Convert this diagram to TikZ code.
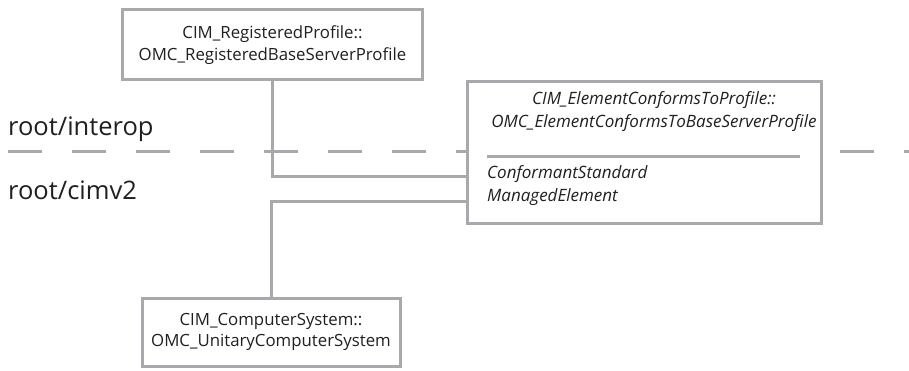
\documentclass[tikz,border=0pt]{standalone}
\usepackage{fontspec}
\setmainfont{Open Sans}
\definecolor{ln}{HTML}{A8A9AD}
\definecolor{tx}{HTML}{231F20}
\begin{document}
\begin{tikzpicture}[x=1pt,y=-1pt,
  box/.style={draw=ln,line width=3pt,fill=white,inner sep=0pt},
  conn/.style={draw=ln,line width=3pt},
  lbl/.style={text=tx,inner sep=0pt,font=\fontsize{16.8}{21.5}\selectfont,align=center},
  ilbl/.style={text=tx,inner sep=0pt,font=\fontsize{17}{23}\selectfont\itshape},
  ns/.style={text=tx,inner sep=0pt,anchor=base west,font=\fontsize{25.5}{30}\selectfont}]
\useasboundingbox (0,0) rectangle (909,371);
\fill[white] (0,0) rectangle (909,371);
\coordinate (dl) at (8,152);
\coordinate (dr) at (909,152);
\draw[conn,dash pattern=on 34pt off 30pt] (dl) -- (dr);
\node[ns] (interop) at (8,136) {root/interop};
\node[ns] (cimv2) at (8,200) {root/cimv2};
\node[box,minimum width=300pt,minimum height=70pt] (reg) at (272.5,45) {};
\node[lbl] (regt) at (reg.center) {CIM\_RegisteredProfile::\\OMC\_RegisteredBaseServerProfile};
\node[box,minimum width=354pt,minimum height=142pt] (elem) at (644,153) {};
\node[ilbl,align=center] (elemt) at (654,112) {CIM\_ElementConformsToProfile::\\OMC\_ElementConformsToBaseServerProfile};
\coordinate (sepl) at (487,157);
\coordinate (sepr) at (800,157);
\draw[conn] (sepl) -- (sepr);
\node[ilbl,anchor=north west,align=left] (props) at (487,165) {ConformantStandard\\ManagedElement};
\node[box,minimum width=258pt,minimum height=68pt] (sys) at (271,332) {};
\node[lbl] (syst) at (sys.center) {CIM\_ComputerSystem::\\OMC\_UnitaryComputerSystem};
\draw[conn] (reg.south) |- ([yshift=-24pt]elem.west);
\draw[conn] (sys.north) |- ([yshift=-49pt]elem.west);
\end{tikzpicture}
\end{document}
